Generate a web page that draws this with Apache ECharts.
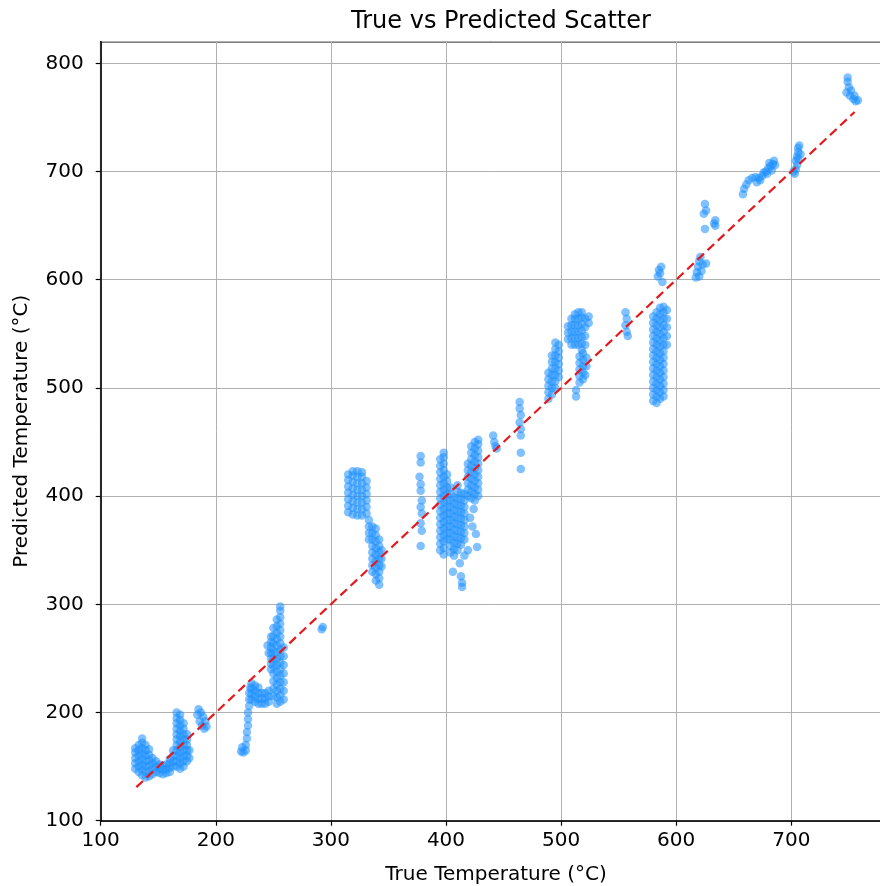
<!DOCTYPE html>
<html>
<head>
<meta charset="utf-8">
<script src="https://cdn.jsdelivr.net/npm/echarts@6/dist/echarts.min.js"></script>
<style>
html,body{margin:0;padding:0;background:#fff;}
#chart{width:880px;height:886px;}
</style>
</head>
<body>
<div id="chart"></div>
<script>
// ---- data: [true temperature, predicted temperature] ----
const clusterA = [
[130,148],[130,153],[130,158],[130,163],[130,167],
[133,145],[133,150],[133,155],[133,160],[133,165],[133,170],
[136,142],[136,147],[136,152],[136,157],[136,162],[136,167],[136,172],[136,176],
[139,140],[139,145],[139,150],[139,155],[139,160],[139,165],[139,170],
[142,141],[142,146],[142,151],[142,156],[142,161],[142,166],
[145,143],[145,148],[145,153],[145,158],
[148,145],[148,150],[148,155],
[151,144],[151,148],[151,152],[154,143],[154,147],[154,151],
[157,144],[157,148],[157,152],[160,145],[160,149],[160,153],[160,157]
];
const clusterB = [
[163,150],[163,155],[163,160],[163,165],
[166,150],[166,155],[166,160],[166,165],[166,170],[166,175],[166,180],[166,185],[166,190],[166,195],[166,200],
[169,148],[169,153],[169,158],[169,163],[169,168],[169,173],[169,178],[169,183],[169,188],[169,193],[169,198],
[172,150],[172,155],[172,160],[172,165],[172,170],[172,175],[172,180],[172,185],[172,190],
[175,155],[175,160],[175,165],[175,170],[175,175],[175,180],[177,158],[177,165],
[185,203],[187,200],[189,196],[191,192],[188,188],[190,185],[192,187],[186,192],[184,198]
];
const clusterD = [
[222,164],[224,163],[226,165],[223,168],[226,170],[227,176],[227,182],[228,188],[228,194],
[228,200],[229,206],[229,212],[229,218],[230,223],
[231,212],[231,217],[231,222],[231,227],[234,210],[234,215],[234,220],[234,225],
[237,208],[237,213],[237,218],[237,223],[240,208],[240,213],[240,218],
[243,208],[243,213],[243,218],[246,210],[246,215],[246,220]
];
const clusterF = [
[248,240],[248,245],[248,250],[248,255],[248,260],[248,265],[248,270],
[250,215],[250,222],[250,229],[250,236],[250,243],[250,250],[250,257],[250,264],[250,271],[250,278],
[253,208],[253,214],[253,220],[253,226],[253,232],[253,238],[253,244],[253,250],[253,256],[253,262],[253,268],[253,274],[253,280],[253,286],
[256,210],[256,216],[256,222],[256,228],[256,234],[256,240],[256,246],[256,252],[256,258],[256,264],[256,270],[256,276],[256,282],[256,288],[256,294],[256,298],
[259,212],[259,220],[259,228],[259,236],[259,244],[259,252],[259,260],
[246,255],[245,262],[292,277],[293,279]
];
const clusterG = [
[315,385],[315,391],[315,397],[315,403],[315,409],[315,415],[315,420],
[319,383],[319,389],[319,395],[319,401],[319,407],[319,413],[319,419],[319,423],
[323,382],[323,388],[323,394],[323,400],[323,406],[323,412],[323,418],[323,423],
[327,382],[327,388],[327,394],[327,400],[327,406],[327,412],[327,418],[327,422],
[331,384],[331,390],[331,396],[331,402],[331,408],[331,414],
[333,360],[333,366],[333,372],[333,378],
[336,330],[336,336],[336,342],[336,348],[336,354],[336,360],[336,366],[336,372],
[339,322],[339,328],[339,334],[339,340],[339,346],[339,352],[339,358],[339,364],[339,370],
[342,318],[342,324],[342,330],[342,336],[342,342],[342,348],[342,354],[342,360],
[344,335],[344,342],[344,350]
];
const clusterH = [
[378,437],[378,431],[377,418],[378,411],[378,405],[379,396],[378,390],[379,384],[378,375],[379,368],[378,354]
];
const clusterI = [
[395,350],[395,356],[395,362],[395,368],[395,374],[395,380],[395,386],[395,392],[395,398],[395,404],[395,410],[395,416],[395,422],[395,428],[395,434],
[398,346],[398,352],[398,358],[398,364],[398,370],[398,376],[398,382],[398,388],[398,394],[398,400],[398,406],[398,412],[398,418],[398,424],[398,430],[398,436],[398,440],
[401,360],[401,366],[401,372],[401,378],[401,384],[401,390],[401,396],[401,402],[401,408],[401,414],[401,420]
];
const clusterJ = [
[404,348],[404,354],[404,360],[404,366],[404,372],[404,378],[404,384],[404,390],[404,396],[404,402],[404,408],
[407,345],[407,351],[407,357],[407,363],[407,369],[407,375],[407,381],[407,387],[407,393],[407,399],
[410,350],[410,356],[410,362],[410,368],[410,374],[410,380],[410,386],[410,392],[410,398],[410,404],[410,410],
[413,355],[413,361],[413,367],[413,373],[413,379],[413,385],[413,391],[413,397],[413,403],
[416,360],[416,366],[416,372],[416,378],[416,384],[416,390],[416,396],[416,402],
[406,330],[412,338],[413,326],[414,320],[414,316],[416,345],[419,350]
];
const clusterK = [
[419,400],[419,406],[419,412],[419,418],[419,424],[419,430],
[422,398],[422,404],[422,410],[422,416],[422,422],[422,428],[422,434],[422,440],[422,446],
[425,396],[425,402],[425,408],[425,414],[425,420],[425,426],[425,432],[425,438],[425,444],[425,450],
[428,400],[428,406],[428,412],[428,418],[428,424],[428,430],[428,436],[428,442],[428,448],[428,452],
[426,365],[427,353],[423,372],[421,380],[424,388],
[441,456],[442,450],[443,446],[444,444]
];
const clusterL = [
[464,487],[464,481],[465,475],[464,468],[465,462],[465,456],[465,440],[465,425]
];
const clusterM = [
[489,490],[489,496],[489,502],[489,508],[489,514],
[492,494],[492,500],[492,506],[492,512],[492,518],[492,524],[492,530],
[495,500],[495,506],[495,512],[495,518],[495,524],[495,530],[495,536],[495,542],
[498,510],[498,516],[498,522],[498,528],[498,534],[498,540]
];
const clusterN = [
[506,545],[506,551],[506,557],
[509,540],[509,546],[509,552],[509,558],[509,564],
[512,540],[512,546],[512,552],[512,558],[512,564],[512,568],
[515,540],[515,546],[515,552],[515,558],[515,564],[515,570],
[518,535],[518,541],[518,547],[518,553],[518,559],[518,565],[518,570],
[521,540],[521,548],[521,556],[521,564],
[516,505],[516,511],[516,517],[516,523],[516,529],
[519,508],[519,514],[519,520],[519,526],[519,532],
[513,498],[513,492],[524,566],[524,560],[522,528],[522,520],[521,512],
[556,570],[557,564],[556,558],[557,552],[558,548]
];
const clusterP = [
[580,488],[580,494],[580,500],[580,506],[580,512],[580,518],[580,524],[580,530],[580,536],[580,542],[580,548],[580,554],[580,560],[580,566],
[583,486],[583,492],[583,498],[583,504],[583,510],[583,516],[583,522],[583,528],[583,534],[583,540],[583,546],[583,552],[583,558],[583,564],[583,570],
[586,490],[586,496],[586,502],[586,508],[586,514],[586,520],[586,526],[586,532],[586,538],[586,544],[586,550],[586,556],[586,562],[586,568],[586,574],
[589,492],[589,498],[589,504],[589,510],[589,516],[589,522],[589,528],[589,534],[589,540],[589,546],[589,552],[589,558],[589,564],[589,570],[589,575],
[592,540],[592,548],[592,556],[592,564],[592,572],
[584,603],[585,609],[587,612],[586,606],[588,598]
];
const clusterQ = [
[617,602],[618,607],[619,612],[620,617],[621,621],[622,608],[620,603],[623,614],[626,615],
[624,661],[625,670],[626,664],[625,647],[633,652],[634,655],[634,650]
];
const clusterR = [
[658,679],[659,684],[661,688],[663,692],[666,694],[669,695],[672,694],[675,696],[678,700],[680,703],
[682,705],[684,707],[686,706],[683,701],[679,698],[670,690],[685,710],[681,708],[676,699],[673,692]
];
const clusterS = [
[703,698],[704,702],[705,706],[704,710],[705,714],[706,718],[706,722],[707,724],[702,700],[706,712],[708,716]
];
const clusterT = [
[749,787],[749,783],[750,778],[748,773],[751,770],[754,767],[756,765],[758,766],[755,770],[752,775]
];
// ideal y = x reference line: from min to max true temperature
const idealRange = [131, 755];
const xTicks = [100, 200, 300, 400, 500, 600, 700];
const yTicks = [100, 200, 300, 400, 500, 600, 700, 800];

const allPoints = [].concat(clusterA, clusterB, clusterD, clusterF, clusterG, clusterH, clusterI,
  clusterJ, clusterK, clusterL, clusterM, clusterN, clusterP, clusterQ, clusterR, clusterS, clusterT);

const FONT = 'DejaVu Sans';
const chart = echarts.init(document.getElementById('chart'), null, {renderer: 'canvas'});
chart.setOption({
  backgroundColor: '#ffffff',
  animation: false,
  title: {
    text: 'True vs Predicted Scatter',
    left: 496, top: 5, textAlign: 'center',
    textStyle: {fontFamily: FONT, fontSize: 24, fontWeight: 'normal', color: '#000'}
  },
  grid: {
    left: 100.7, top: 41.7, bottom: 65.3, right: -11.4,
    outerBoundsMode: 'none', containLabel: false,
    show: true, borderColor: '#000', borderWidth: 1.5, backgroundColor: 'transparent'
  },
  xAxis: {
    type: 'value', min: 100, max: 787, interval: 100,
    name: 'True Temperature (°C)', nameLocation: 'middle', nameGap: 44,
    nameTextStyle: {fontFamily: FONT, fontSize: 20, color: '#000'},
    axisLine: {show: true, onZero: false, lineStyle: {color: '#000', width: 1.5}},
    axisTick: {show: true, length: 5, lineStyle: {color: '#000', width: 1.2}},
    axisLabel: {fontFamily: FONT, fontSize: 20, color: '#000', margin: 10, showMaxLabel: false,
      formatter: v => xTicks.includes(v) ? String(v) : ''},
    splitLine: {show: true, lineStyle: {color: '#b0b0b0', width: 1}}
  },
  yAxis: {
    type: 'value', min: 100, max: 820, interval: 100,
    name: 'Predicted Temperature (°C)', nameLocation: 'middle', nameGap: 69, nameRotate: 90,
    nameTextStyle: {fontFamily: FONT, fontSize: 20, color: '#000'},
    axisLine: {show: true, onZero: false, lineStyle: {color: '#000', width: 1.5}},
    axisTick: {show: true, length: 5, lineStyle: {color: '#000', width: 1.2}},
    axisLabel: {fontFamily: FONT, fontSize: 20, color: '#000', margin: 17, showMaxLabel: false,
      formatter: v => yTicks.includes(v) ? String(v) : ''},
    splitLine: {show: true, lineStyle: {color: '#b0b0b0', width: 1}}
  },
  series: [
    {
      type: 'scatter', data: allPoints, symbolSize: 8.5,
      itemStyle: {color: 'rgba(30,144,255,0.7)', borderWidth: 0},
      z: 2
    },
    {
      type: 'line', data: [[idealRange[0], idealRange[0]], [idealRange[1], idealRange[1]]],
      showSymbol: false, symbol: 'none',
      lineStyle: {color: '#e4191c', width: 2.2, type: [9, 5]},
      z: 3
    }
  ]
});
</script>
</body>
</html>
